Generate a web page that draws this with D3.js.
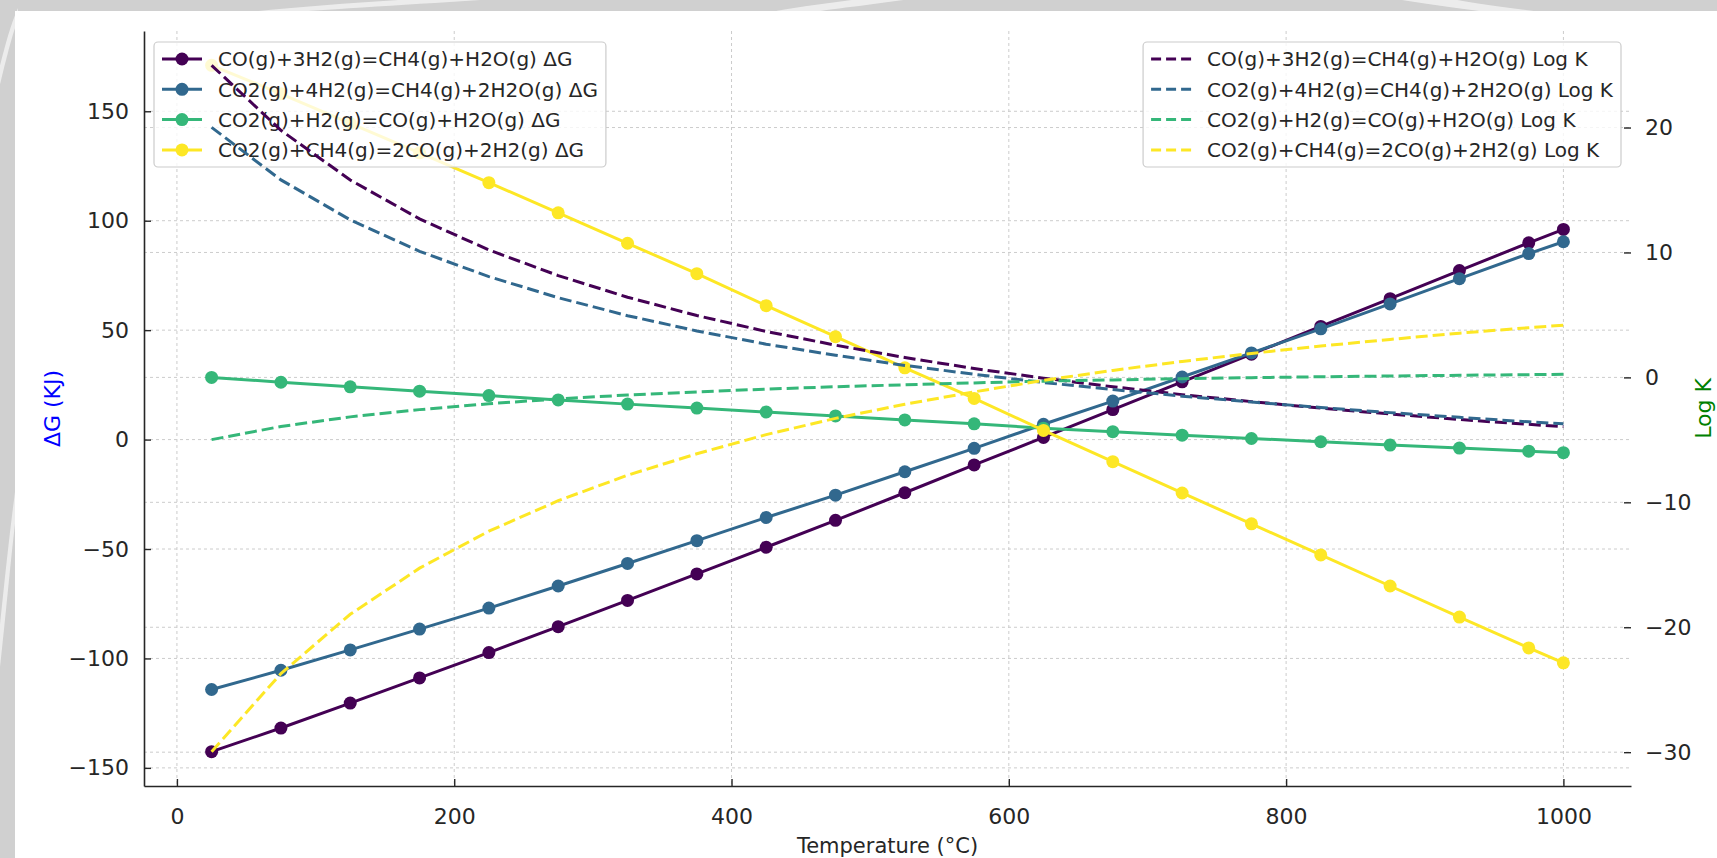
<!DOCTYPE html>
<html>
<head>
<meta charset="utf-8">
<script src="https://cdn.jsdelivr.net/npm/d3@7"></script>
<style>
  html, body { margin: 0; padding: 0; background: #d0d0d0; }
  svg { display: block; }
  text { font-family: "DejaVu Sans", sans-serif; }
</style>
</head>
<body>
<svg width="1717" height="858"></svg>
<script>
// temperature points (°C)
const temps = [25, 75, 125, 175, 225, 275, 325, 375, 425, 475, 525,
    575, 625, 675, 725, 775, 825, 875, 925, 975, 1000];

const reactions = [
    "CO(g)+3H2(g)=CH4(g)+H2O(g)",
    "CO2(g)+4H2(g)=CH4(g)+2H2O(g)",
    "CO2(g)+H2(g)=CO(g)+H2O(g)",
    "CO2(g)+CH4(g)=2CO(g)+2H2(g)"
];

const colors = ["#440154", "#31688e", "#35b779", "#fde725"];

// ΔG, kJ (left axis)
const dgCO = [-142.6, -131.8, -120.4, -108.9, -97.3, -85.5, -73.5, -61.4, -49.2, -36.9, -24.3,
    -11.6, 1.0, 13.7, 26.4, 39.0, 51.7, 64.4, 77.2, 89.9, 96.0];
const dgCO2 = [-114.2, -105.4, -96.1, -86.6, -77.0, -66.9, -56.6, -46.2, -35.6, -25.4, -14.7,
    -4.0, 7.0, 17.6, 28.6, 39.6, 50.6, 62.0, 73.5, 85.0, 90.4];
const dgShift = [28.4, 26.2, 24.1, 22.1, 20.1, 18.1, 16.2, 14.4, 12.6, 10.8, 9.0,
    7.2, 5.2, 3.6, 2.0, 0.5, -1.0, -2.5, -3.9, -5.3, -6.0];
const dgDry = [171.0, 158.0, 144.5, 131.0, 117.4, 103.6, 89.7, 75.8, 61.2, 47.0, 32.8,
    18.8, 4.2, -10.1, -24.4, -38.5, -52.7, -66.9, -81.1, -95.2, -102.0];

// Log K (right axis)
const lkCO = [24.98, 19.78, 15.80, 12.69, 10.20, 8.15, 6.42, 4.95, 3.68, 2.58, 1.59,
    0.71, -0.06, -0.75, -1.38, -1.94, -2.46, -2.93, -3.37, -3.76, -3.94];
const lkCO2 = [20.01, 15.81, 12.61, 10.09, 8.07, 6.38, 4.94, 3.72, 2.66, 1.77, 0.96,
    0.25, -0.41, -0.97, -1.50, -1.97, -2.41, -2.82, -3.20, -3.56, -3.71];
const lkShift = [-4.98, -3.93, -3.16, -2.58, -2.11, -1.72, -1.41, -1.16, -0.94, -0.75, -0.59,
    -0.44, -0.30, -0.20, -0.10, -0.02, 0.05, 0.11, 0.17, 0.22, 0.25];
const lkDry = [-29.96, -23.71, -18.96, -15.27, -12.31, -9.87, -7.83, -6.11, -4.58, -3.28, -2.15,
    -1.16, -0.24, 0.56, 1.28, 1.92, 2.51, 3.04, 3.54, 3.98, 4.18];

const ticksT = [0, 200, 400, 600, 800, 1000];
const ticksG = [-150, -100, -50, 0, 50, 100, 150];
const ticksK = [-30, -20, -10, 0, 10, 20];

const dgSeries = [dgCO, dgCO2, dgShift, dgDry];
const lkSeries = [lkCO, lkCO2, lkShift, lkDry];

const attr = {
    width: 1717,
    height: 858,
    left: 144,
    right: 1631,
    top: 31,
    bottom: 786,
    tickFont: 22,
    legendFont: 20,
    ink: "#262626"
};

function padExtent(values) {
    const [lo, hi] = d3.extent(values);
    const pad = (hi - lo) * 0.05;
    return [lo - pad, hi + pad];
}

function fmt(v) {
    return v < 0 ? "\u2212" + Math.abs(v) : String(v);
}

function drawBackground(svg) {
    svg.append("rect")
        .attr("width", attr.width)
        .attr("height", attr.height)
        .attr("fill", "#d0d0d0");

    // pale swooshes in the grey frame
    const swoosh = [
        "M 230 14 C 300 6, 390 0, 470 -4 L 540 -4 C 440 3, 330 9, 270 14 Z",
        "M 760 14 C 800 6, 840 2, 880 -4 L 930 -4 C 880 4, 830 9, 800 14 Z",
        "M 1380 -4 C 1420 4, 1460 8, 1500 14 L 1560 14 C 1510 8, 1460 2, 1440 -4 Z",
        "M -4 700 C 4 640, 10 560, 18 500 L 18 470 C 8 540, 2 610, -4 660 Z",
        "M -4 100 C 4 70, 10 40, 18 20 L 18 8 C 8 30, 2 60, -4 80 Z"
    ];
    svg.append("g")
        .selectAll("path")
        .data(swoosh)
        .enter()
        .append("path")
        .attr("d", d => d)
        .attr("fill", "#f2f2f2")
        .attr("opacity", 0.8);

    svg.append("rect")
        .attr("x", 15)
        .attr("y", 11)
        .attr("width", attr.width - 15)
        .attr("height", attr.height - 11)
        .attr("fill", "#ffffff");
}

function createScales() {
    const scX = d3.scaleLinear()
        .domain(padExtent(temps))
        .range([attr.left, attr.right]);

    const scG = d3.scaleLinear()
        .domain(padExtent(dgSeries.flat()))
        .range([attr.bottom, attr.top]);

    const scK = d3.scaleLinear()
        .domain(padExtent(lkSeries.flat()))
        .range([attr.bottom, attr.top]);

    return [scX, scG, scK];
}

function drawGrid(svg, scX, scG, scK) {
    const grid = svg.append("g")
        .attr("stroke", "#cccccc")
        .attr("stroke-width", 1)
        .attr("stroke-dasharray", "3,3");

    grid.selectAll(".gx")
        .data(ticksT)
        .enter()
        .append("line")
        .attr("x1", d => scX(d))
        .attr("x2", d => scX(d))
        .attr("y1", attr.top)
        .attr("y2", attr.bottom);

    grid.selectAll(".gg")
        .data(ticksG)
        .enter()
        .append("line")
        .attr("x1", attr.left)
        .attr("x2", attr.right)
        .attr("y1", d => scG(d))
        .attr("y2", d => scG(d));

    grid.selectAll(".gk")
        .data(ticksK)
        .enter()
        .append("line")
        .attr("x1", attr.left)
        .attr("x2", attr.right)
        .attr("y1", d => scK(d))
        .attr("y2", d => scK(d));
}

function drawAxes(svg, scX, scG, scK) {
    const tickLen = 7;

    // bottom axis
    const ax = svg.append("g")
        .attr("transform", `translate(0,${attr.bottom})`)
        .call(d3.axisBottom(scX)
            .tickValues(ticksT)
            .tickSizeInner(-tickLen)
            .tickSizeOuter(0)
            .tickPadding(22)
            .tickFormat(fmt));

    // left axis
    const ay = svg.append("g")
        .attr("transform", `translate(${attr.left},0)`)
        .call(d3.axisLeft(scG)
            .tickValues(ticksG)
            .tickSizeInner(-tickLen)
            .tickSizeOuter(0)
            .tickPadding(15)
            .tickFormat(fmt));

    // right axis, no spine
    const ak = svg.append("g")
        .attr("transform", `translate(${attr.right},0)`)
        .call(d3.axisRight(scK)
            .tickValues(ticksK)
            .tickSizeInner(-tickLen)
            .tickSizeOuter(0)
            .tickPadding(14)
            .tickFormat(fmt));
    ak.select(".domain").remove();

    [ax, ay, ak].forEach(g => {
        g.selectAll(".domain")
            .attr("stroke", attr.ink)
            .attr("stroke-width", 1.6);
        g.selectAll(".tick line")
            .attr("stroke", attr.ink)
            .attr("stroke-width", 1.4);
        g.selectAll(".tick text")
            .attr("fill", attr.ink)
            .style("font-size", attr.tickFont + "px")
            .style("font-family", "DejaVu Sans");
    });

    svg.append("text")
        .attr("x", (attr.left + attr.right) / 2)
        .attr("y", 853)
        .attr("text-anchor", "middle")
        .attr("fill", attr.ink)
        .style("font-size", "21px")
        .text("Temperature (°C)");

    svg.append("text")
        .attr("transform", `translate(52,${(attr.top + attr.bottom) / 2}) rotate(-90)`)
        .attr("text-anchor", "middle")
        .attr("dy", "0.35em")
        .attr("fill", "#0000ff")
        .style("font-size", "22px")
        .text("ΔG (KJ)");

    svg.append("text")
        .attr("transform", `translate(1703,${(attr.top + attr.bottom) / 2}) rotate(-90)`)
        .attr("text-anchor", "middle")
        .attr("dy", "0.35em")
        .attr("fill", "#008000")
        .style("font-size", "22px")
        .text("Log K");
}

function drawSeries(svg, values, scX, scY, color, dashed) {
    const pts = temps.map((t, i) => ({ t: t, v: values[i] }));

    const line = d3.line()
        .x(d => scX(d.t))
        .y(d => scY(d.v));

    svg.append("path")
        .datum(pts)
        .attr("fill", "none")
        .attr("stroke", color)
        .attr("stroke-width", 3)
        .attr("stroke-dasharray", dashed ? "12,5" : null)
        .attr("d", line);

    if (!dashed) {
        svg.append("g")
            .selectAll("circle")
            .data(pts)
            .enter()
            .append("circle")
            .attr("cx", d => scX(d.t))
            .attr("cy", d => scY(d.v))
            .attr("r", 6.5)
            .attr("fill", color);
    }
}

function drawLegend(svg, labels, dashed, anchorX, alignRight) {
    const fs = attr.legendFont;
    const pad = 0.4 * fs;
    const handle = 2 * fs;
    const gap = 0.8 * fs;
    const top = 42;
    const rowH = 30.3;
    const boxH = 125;

    const g = svg.append("g");
    const box = g.append("rect")
        .attr("y", top)
        .attr("height", boxH)
        .attr("rx", 4)
        .attr("fill", "#ffffff")
        .attr("fill-opacity", 0.8)
        .attr("stroke", "#cccccc")
        .attr("stroke-width", 1.2);

    const texts = g.selectAll("text")
        .data(labels)
        .enter()
        .append("text")
        .attr("y", (d, i) => top + 17 + i * rowH)
        .attr("dy", "0.36em")
        .attr("fill", attr.ink)
        .style("font-size", fs + "px")
        .text(d => d);

    let maxW = 0;
    texts.each(function () {
        maxW = Math.max(maxW, this.getComputedTextLength());
    });

    const boxW = pad + handle + gap + maxW + pad;
    const x0 = alignRight ? anchorX - boxW : anchorX;
    box.attr("x", x0).attr("width", boxW);
    texts.attr("x", x0 + pad + handle + gap);

    labels.forEach((lab, i) => {
        const y = top + 17 + i * rowH;
        g.append("line")
            .attr("x1", x0 + pad)
            .attr("x2", x0 + pad + handle)
            .attr("y1", y)
            .attr("y2", y)
            .attr("stroke", colors[i])
            .attr("stroke-width", 3)
            .attr("stroke-dasharray", dashed ? "10,5" : null);
        if (!dashed) {
            g.append("circle")
                .attr("cx", x0 + pad + handle / 2)
                .attr("cy", y)
                .attr("r", 6.5)
                .attr("fill", colors[i]);
        }
    });
}

function drawChart() {
    const svg = d3.select("svg");
    svg.selectAll("*").remove();

    drawBackground(svg);

    const [scX, scG, scK] = createScales();

    drawGrid(svg, scX, scG, scK);

    dgSeries.forEach((vals, i) => {
        drawSeries(svg, vals, scX, scG, colors[i], false);
    });

    drawLegend(svg, reactions.map(r => r + " ΔG"), false, 154, false);

    lkSeries.forEach((vals, i) => {
        drawSeries(svg, vals, scX, scK, colors[i], true);
    });

    drawAxes(svg, scX, scG, scK);

    drawLegend(svg, reactions.map(r => r + " Log K"), true, 1621, true);
}

drawChart();
</script>
</body>
</html>
